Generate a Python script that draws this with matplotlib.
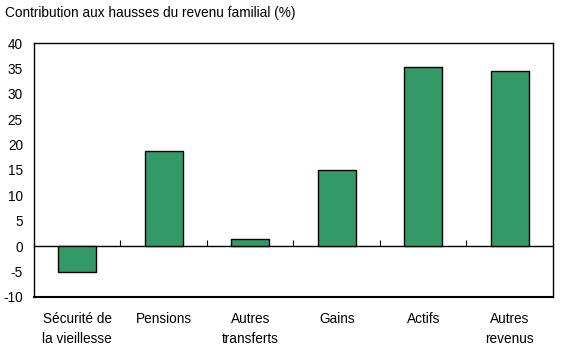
import matplotlib.pyplot as plt
import matplotlib.transforms as mtransforms
import numpy as np

plt.rcParams['font.family'] = ['Liberation Sans', 'DejaVu Sans']

categories = ['Sécurité de\nla vieillesse', 'Pensions', 'Autres\ntransferts',
              'Gains', 'Actifs', 'Autres\nrevenus']
values = [-5.1, 18.7, 1.4, 15.0, 35.2, 34.4]
yticks = [-10, -5, 0, 5, 10, 15, 20, 25, 30, 35, 40]

fig = plt.figure(figsize=(5.61, 3.52), dpi=100)
ax = fig.add_axes([0.0606, 0.1563, 0.925, 0.7215])

x = np.arange(len(categories))
ax.bar(x, values, width=0.44, color='#339966', edgecolor='black', linewidth=1, zorder=3)

ax.set_xlim(-0.5, len(categories) - 0.5)
ax.set_ylim(-10, 40)
ax.set_yticks(yticks)
ax.set_yticklabels([str(t) for t in yticks], fontsize=9.8)
ax.tick_params(axis='y', length=0, pad=8)

# zero line carries the category separators
ax.spines['bottom'].set_position(('data', 0))
ax.set_xticks(x[:-1] + 0.5)
ax.set_xticklabels([])
ax.tick_params(axis='x', direction='in', length=4, width=0.8)
ax.axhline(-10, color='black', linewidth=1.5, clip_on=False)
for s in ax.spines.values():
    s.set_linewidth(1)

trans = mtransforms.blended_transform_factory(ax.transData, ax.transAxes)
for i, lab in enumerate(categories):
    ax.text(i, -0.06, lab, transform=trans, ha='center', va='top',
            fontsize=9.8, linespacing=1.5)

fig.text(0.009, 0.962, 'Contribution aux hausses du revenu familial (%)',
         fontsize=9.8, ha='left', va='center')

fig.savefig('out.png', dpi=100)
